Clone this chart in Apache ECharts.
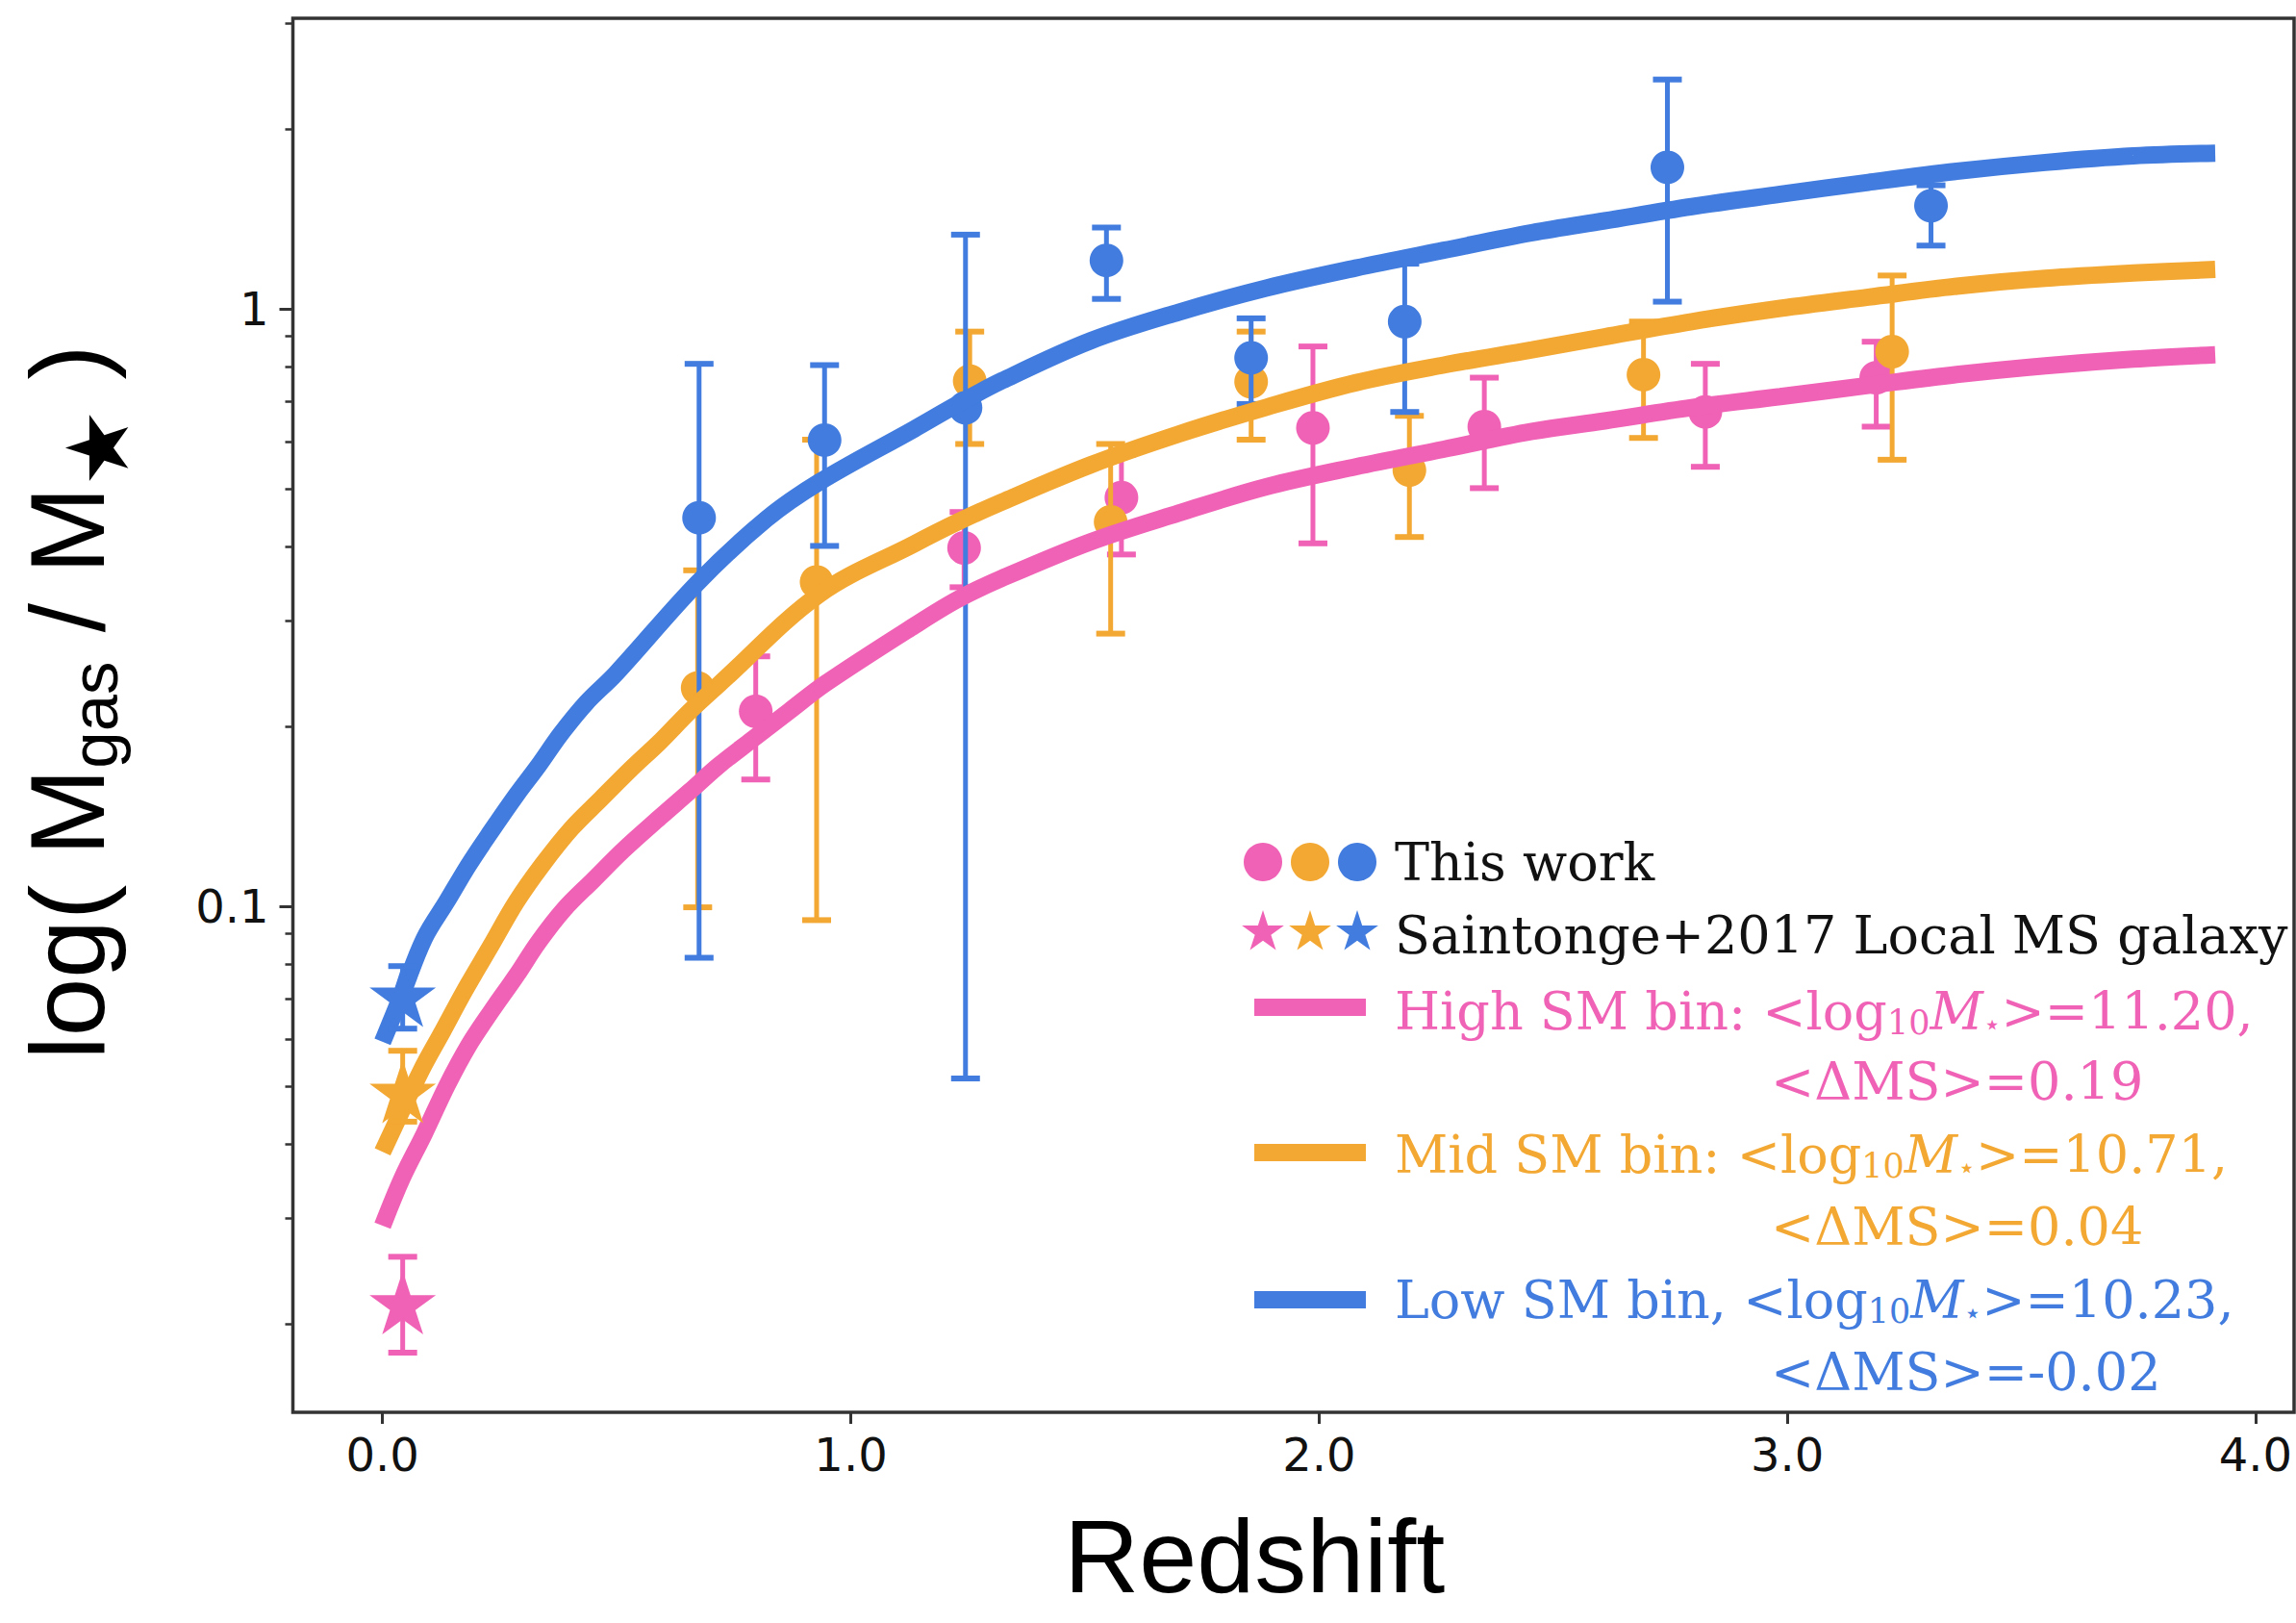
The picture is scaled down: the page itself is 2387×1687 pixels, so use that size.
<!DOCTYPE html>
<html><head><meta charset="utf-8">
<script src="https://cdn.jsdelivr.net/npm/echarts@6/dist/echarts.min.js"></script>
<style>html,body{margin:0;padding:0;background:#fff;}#c{width:2387px;height:1687px;}</style>
</head><body><div id="c"></div>
<script>
// ---------- data ----------
const xTicks = [0, 1, 2, 3, 4];
const yMajorTicks = [0.1, 1];
const yMinorTicks = [0.02,0.03,0.04,0.05,0.06,0.07,0.08,0.09,0.2,0.3,0.4,0.5,0.6,0.7,0.8,0.9,2,3];

// This work (points with error bars)
const pinkZ  = [0.797, 1.242, 1.578, 1.987, 2.353, 2.825, 3.19];
const pinkV  = [0.212, 0.398, 0.483, 0.632, 0.635, 0.672, 0.767];
const pinkLo = [0.163, 0.342, 0.388, 0.405, 0.501, 0.544, 0.635];
const pinkHi = [0.262, 0.457, 0.57, 0.865, 0.767, 0.809, 0.881];

const orangeZ  = [0.673, 0.927, 1.254, 1.555, 1.855, 2.193, 2.693, 3.224];
const orangeV  = [0.232, 0.349, 0.757, 0.44, 0.755, 0.537, 0.776, 0.848];
const orangeLo = [0.0996, 0.0948, 0.594, 0.286, 0.604, 0.415, 0.608, 0.559];
const orangeHi = [0.365, 0.604, 0.916, 0.594, 0.916, 0.662, 0.952, 1.137];

const blueZ  = [0.676, 0.944, 1.245, 1.546, 1.855, 2.183, 2.744, 3.307];
const blueV  = [0.447, 0.603, 0.683, 1.205, 0.828, 0.952, 1.725, 1.488];
const blueLo = [0.082, 0.401, 0.0515, 1.039, 0.693, 0.672, 1.028, 1.276];
const blueHi = [0.809, 0.805, 1.331, 1.368, 0.964, 1.19, 2.42, 1.61];

// Saintonge+2017 local MS galaxies (stars)
const starZ  = [0.043, 0.043, 0.043];       // pink, orange, blue
const starV  = [0.0217, 0.049, 0.071];
const starLo = [0.0179, 0.0436, 0.0624];
const starHi = [0.0259, 0.0573, 0.0794];

// Model curves
const blueCurveZ = [0, 0.042, 0.089, 0.137, 0.184, 0.231, 0.286, 0.333, 0.380, 0.435, 0.498, 0.673, 0.82, 0.933, 1.135, 1.229, 1.323, 1.512, 1.70, 1.889, 2.078, 2.266, 2.455, 2.61, 2.796, 2.985, 3.173, 3.362, 3.551, 3.739, 3.914];
const blueCurveV = [0.0593, 0.0714, 0.0883, 0.1018, 0.1173, 0.1332, 0.1536, 0.172, 0.194, 0.219, 0.245, 0.348, 0.445, 0.513, 0.629, 0.693, 0.758, 0.884, 0.987, 1.084, 1.170, 1.253, 1.341, 1.404, 1.483, 1.555, 1.628, 1.699, 1.758, 1.803, 1.822];
const orangeCurveZ = [0, 0.082, 0.129, 0.176, 0.231, 0.286, 0.341, 0.404, 0.467, 0.530, 0.593, 0.656, 0.718, 0.933, 1.135, 1.229, 1.323, 1.512, 1.70, 1.889, 2.078, 2.266, 2.455, 2.61, 2.796, 2.985, 3.173, 3.362, 3.551, 3.739, 3.914];
const orangeCurveV = [0.0388, 0.053, 0.0619, 0.0724, 0.0858, 0.1018, 0.1173, 0.1351, 0.1514, 0.1696, 0.1887, 0.212, 0.235, 0.333, 0.404, 0.440, 0.475, 0.548, 0.617, 0.685, 0.752, 0.805, 0.854, 0.898, 0.952, 1.002, 1.046, 1.091, 1.125, 1.148, 1.164];
const pinkCurveZ = [0, 0.042, 0.089, 0.137, 0.184, 0.231, 0.286, 0.333, 0.388, 0.451, 0.514, 0.593, 0.656, 0.718, 0.789, 0.868, 0.946, 1.135, 1.229, 1.323, 1.512, 1.70, 1.889, 2.078, 2.266, 2.455, 2.61, 2.796, 2.985, 3.173, 3.362, 3.551, 3.739, 3.914];
const pinkCurveV = [0.0292, 0.0351, 0.0416, 0.05, 0.0585, 0.0665, 0.0766, 0.0871, 0.0989, 0.1108, 0.1241, 0.141, 0.1557, 0.172, 0.190, 0.212, 0.236, 0.2946, 0.3265, 0.354, 0.4074, 0.455, 0.504, 0.544, 0.582, 0.6235, 0.6493, 0.6834, 0.7129, 0.7442, 0.7763, 0.8029, 0.824, 0.838];

// ---------- style ----------
const PINK = '#F062B5', ORANGE = '#F3A833', BLUE = '#417CDE';
const STAR_PATH = 'path://M50 0 L61.23 34.55 L97.55 34.55 L68.17 55.9 L79.39 90.45 L50 69.1 L20.61 90.45 L31.83 55.9 L2.45 34.55 L38.77 34.55 Z';

function zip2(a, b) { return a.map((v, i) => [v, b[i]]); }
function zip3(a, b, c) { return a.map((v, i) => [v, b[i], c[i]]); }

function errRender(color) {
  return function (params, api) {
    const x = api.value(0), lo = api.value(1), hi = api.value(2);
    const a = api.coord([x, lo]), b = api.coord([x, hi]);
    const hw = 15;
    return {
      type: 'group',
      children: [
        { type: 'line', shape: { x1: a[0], y1: a[1], x2: b[0], y2: b[1] }, style: { stroke: color, lineWidth: 5 } },
        { type: 'line', shape: { x1: a[0] - hw, y1: a[1], x2: a[0] + hw, y2: a[1] }, style: { stroke: color, lineWidth: 6 } },
        { type: 'line', shape: { x1: b[0] - hw, y1: b[1], x2: b[0] + hw, y2: b[1] }, style: { stroke: color, lineWidth: 6 } }
      ]
    };
  };
}
function errSeries(color, z, lo, hi, zz) {
  return { type: 'custom', renderItem: errRender(color), data: zip3(z, lo, hi), encode: { x: 0, y: [1, 2] }, z: zz, silent: true };
}
function pointSeries(color, z, v, zz) {
  return { type: 'scatter', data: zip2(z, v), symbol: 'circle', symbolSize: 35, itemStyle: { color: color, opacity: 1 }, z: zz, silent: true };
}
function curveSeries(color, z, v, zz) {
  return { type: 'line', data: zip2(z, v), showSymbol: false, symbol: 'none', smooth: 0.35,
           lineStyle: { color: color, width: 18, cap: 'butt' }, z: zz, silent: true };
}
const starColors = [PINK, ORANGE, BLUE];

function starPoints(cx, cy, R) {
  const pts = [], r = R * 0.382;
  for (let k = 0; k < 10; k++) {
    const ang = -Math.PI / 2 + k * Math.PI / 5;
    const rr = k % 2 === 0 ? R : r;
    pts.push([cx + rr * Math.cos(ang), cy + rr * Math.sin(ang)]);
  }
  return pts;
}

const SERIF = '"DejaVu Serif", serif';
const legendRich = {
  a: { fontSize: 54, lineHeight: 66, fontFamily: SERIF },
  s: { fontSize: 35, lineHeight: 35, fontFamily: SERIF, padding: [23, 0, 0, 0] },
  i: { fontSize: 54, lineHeight: 66, fontFamily: SERIF, fontStyle: 'italic' },
  d: { fontSize: 30, lineHeight: 30, fontFamily: '"DejaVu Sans"', padding: [26, 0, 0, 0] }
};
function legendText(x, baseline, text, color) {
  return { type: 'text', x: x, y: baseline - 19, z: 100,
    style: { text: text, fill: color, font: '54px ' + SERIF, verticalAlign: 'middle', align: 'left', rich: legendRich } };
}
function legendLine(y, color) {
  return { type: 'rect', z: 100, shape: { x: 1304, y: y - 9, width: 116, height: 18 }, style: { fill: color } };
}

const legendGraphics = [
  { type: 'circle', z: 100, shape: { cx: 1313, cy: 896, r: 20 }, style: { fill: PINK } },
  { type: 'circle', z: 100, shape: { cx: 1362, cy: 896, r: 20 }, style: { fill: ORANGE } },
  { type: 'circle', z: 100, shape: { cx: 1411, cy: 896, r: 20 }, style: { fill: BLUE } },
  { type: 'polygon', z: 100, shape: { points: starPoints(1313, 969, 23) }, style: { fill: PINK } },
  { type: 'polygon', z: 100, shape: { points: starPoints(1362, 969, 23) }, style: { fill: ORANGE } },
  { type: 'polygon', z: 100, shape: { points: starPoints(1411, 969, 23) }, style: { fill: BLUE } },
  legendText(1450, 915, '{a|This work}', '#111'),
  legendText(1450, 991, '{a|Saintonge+2017 Local MS galaxy}', '#111'),
  legendLine(1047, PINK),
  legendText(1450, 1070, '{a|High SM bin: <log}{s|10}{i|M}{d|⋆}{a|>=11.20,}', PINK),
  legendText(1841, 1143, '{a|<ΔMS>=0.19}', PINK),
  legendLine(1198, ORANGE),
  legendText(1450, 1219, '{a|Mid SM bin: <log}{s|10}{i|M}{d|⋆}{a|>=10.71,}', ORANGE),
  legendText(1841, 1294, '{a|<ΔMS>=0.04}', ORANGE),
  legendLine(1351, BLUE),
  legendText(1450, 1370, '{a|Low SM bin, <log}{s|10}{i|M}{d|⋆}{a|>=10.23,}', BLUE),
  legendText(1841, 1445, '{a|<ΔMS>=-0.02}', BLUE)
];

const YMIN = 0.014223, YMAX = 3.0643;
const tickFmt = v => String(+Number(v).toPrecision(3));

const chart = echarts.init(document.getElementById('c'), null, { renderer: 'svg', width: 2387, height: 1687 });
chart.setOption({
  animation: false,
  backgroundColor: '#fff',
  grid: { left: 304.5, right: 2, top: 19, bottom: 219, containLabel: false, outerBoundsMode: 'none',
          show: true, borderColor: '#333', borderWidth: 3.5, backgroundColor: 'transparent' },
  xAxis: {
    type: 'value', min: -0.1915, max: 4.0824,
    axisLine: { show: false, onZero: false }, splitLine: { show: false },
    axisTick: { show: true, customValues: xTicks, length: 12, lineStyle: { color: '#333', width: 3 } },
    axisLabel: { customValues: xTicks, formatter: v => Number(v).toFixed(1), fontSize: 48, fontFamily: '"DejaVu Sans"', color: '#111', margin: 20 },
    name: 'Redshift', nameLocation: 'middle', nameGap: 104,
    nameTextStyle: { fontFamily: '"Liberation Sans", Arial, sans-serif', fontSize: 108, lineHeight: 90, color: '#000', padding: [0, 81, 0, 0] }
  },
  yAxis: [
    {
      type: 'log', min: YMIN, max: YMAX, position: 'left',
      axisLine: { show: false, onZero: false }, splitLine: { show: false }, minorTick: { show: false },
      axisTick: { show: true, customValues: yMajorTicks, length: 14, lineStyle: { color: '#333', width: 3 } },
      axisLabel: { customValues: yMajorTicks, formatter: tickFmt, fontSize: 48, fontFamily: '"DejaVu Sans"', color: '#111', margin: 25 },
      name: '{m|log( M}{s|gas}{m| / M}{st|★}{m| )}', nameLocation: 'middle', nameGap: 158,
      nameTextStyle: {
        fontFamily: '"Liberation Sans", Arial, sans-serif', fontSize: 109, color: '#000', padding: [0, 0, 0, 27],
        rich: {
          m: { fontFamily: '"Liberation Sans", Arial, sans-serif', fontSize: 109, lineHeight: 154, color: '#000' },
          s: { fontFamily: '"Liberation Sans", Arial, sans-serif', fontSize: 69, lineHeight: 69, color: '#000', padding: [57, 0, 0, 0] },
          st: { fontFamily: '"DejaVu Sans"', fontSize: 90, lineHeight: 90, color: '#000', padding: [63, 0, 0, 0] }
        }
      }
    },
    {
      type: 'log', min: YMIN, max: YMAX, position: 'left',
      axisLine: { show: false, onZero: false }, splitLine: { show: false },
      axisTick: { show: true, customValues: yMinorTicks, length: 8, lineStyle: { color: '#333', width: 2.5 } },
      axisLabel: { show: false }
    }
  ],
  graphic: legendGraphics,
  series: [
    errSeries(PINK, pinkZ, pinkLo, pinkHi, 1),
    pointSeries(PINK, pinkZ, pinkV, 2),
    errSeries(ORANGE, orangeZ, orangeLo, orangeHi, 3),
    pointSeries(ORANGE, orangeZ, orangeV, 4),
    errSeries(BLUE, blueZ, blueLo, blueHi, 5),
    pointSeries(BLUE, blueZ, blueV, 6),
    curveSeries(PINK, pinkCurveZ, pinkCurveV, 7),
    curveSeries(ORANGE, orangeCurveZ, orangeCurveV, 8),
    curveSeries(BLUE, blueCurveZ, blueCurveV, 9),
    {
      type: 'custom', z: 10, silent: true, encode: { x: 0, y: [1, 2] },
      data: starZ.map((z, i) => ({ value: [z, starLo[i], starHi[i]], itemStyle: { color: starColors[i] } })),
      renderItem: function (params, api) { return errRender(starColors[params.dataIndex])(params, api); }
    },
    {
      type: 'scatter', z: 11, silent: true, symbol: STAR_PATH, symbolSize: [69, 66],
      data: starZ.map((z, i) => ({ value: [z, starV[i]], itemStyle: { color: starColors[i], opacity: 1 } }))
    }
  ]
});
</script></body></html>
